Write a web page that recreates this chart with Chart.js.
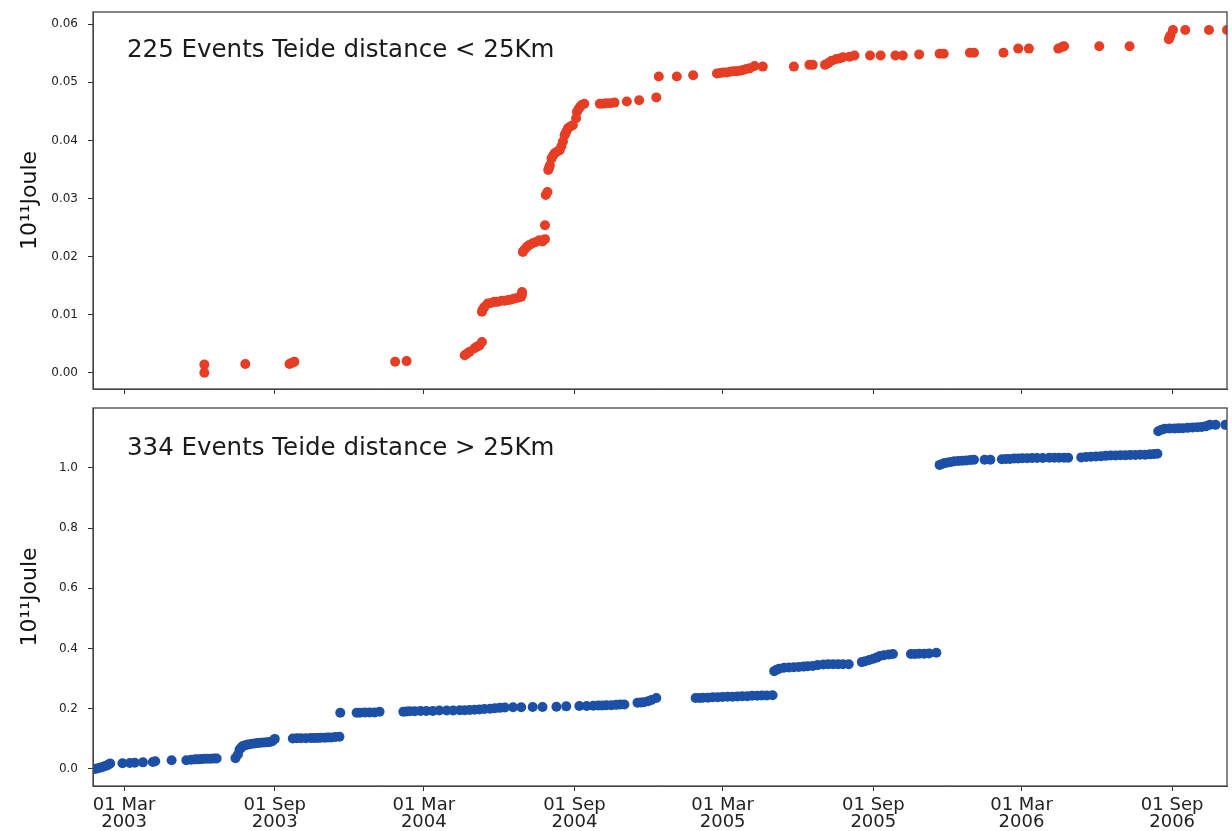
<!DOCTYPE html>
<html lang="en">
<head>
<meta charset="UTF-8">
<title>Teide cumulative seismic energy</title>
<style>
  body { margin: 0; background: #fff; }
  #wrap { position: relative; width: 1232px; height: 831px; }
  canvas { position: absolute; left: 0; }
  #topChart { top: 0; }
  #bottomChart { top: 400px; }
</style>
<script src="https://cdn.jsdelivr.net/npm/chart.js"></script>
</head>
<body>
<div id="wrap">
  <canvas id="topChart" width="1232" height="400"></canvas>
  <canvas id="bottomChart" width="1232" height="431"></canvas>
</div>
<script>
// events closer than 25 km to Teide
const nearDates = [
  '2003-06-07','2003-06-07','2003-07-27','2003-09-19','2003-09-22','2003-09-25','2004-01-26','2004-02-09',
  '2004-04-20','2004-04-23','2004-04-26','2004-05-02','2004-05-05','2004-05-08','2004-05-11','2004-05-11',
  '2004-05-12','2004-05-14','2004-05-18','2004-05-22','2004-05-26','2004-05-30','2004-06-04','2004-06-08',
  '2004-06-12','2004-06-16','2004-06-20','2004-06-24','2004-06-28','2004-06-29','2004-06-29','2004-06-30',
  '2004-07-02','2004-07-05','2004-07-08','2004-07-12','2004-07-16','2004-07-20','2004-07-24','2004-07-27',
  '2004-07-27','2004-07-28','2004-07-30','2004-07-31','2004-08-01','2004-08-02','2004-08-04','2004-08-06',
  '2004-08-08','2004-08-11','2004-08-14','2004-08-16','2004-08-18','2004-08-20','2004-08-22','2004-08-24',
  '2004-08-27','2004-08-30','2004-09-03','2004-09-04','2004-09-06','2004-09-08','2004-09-10','2004-09-13',
  '2004-10-02','2004-10-06','2004-10-10','2004-10-15','2004-10-20','2004-11-04','2004-11-19','2004-12-10',
  '2004-12-13','2005-01-04','2005-01-24','2005-02-22','2005-02-26','2005-03-02','2005-03-06','2005-03-10',
  '2005-03-14','2005-03-18','2005-03-22','2005-03-26','2005-03-30','2005-04-03','2005-04-09','2005-04-19',
  '2005-05-27','2005-06-15','2005-06-19','2005-07-04','2005-07-08','2005-07-12','2005-07-18','2005-07-22',
  '2005-07-26','2005-08-03','2005-08-09','2005-08-28','2005-09-10','2005-09-28','2005-10-07','2005-10-27',
  '2005-11-21','2005-11-26','2005-12-28','2006-01-02','2006-02-07','2006-02-25','2006-03-10','2006-04-15',
  '2006-04-20','2006-04-22','2006-06-04','2006-07-11','2006-08-28','2006-08-29','2006-08-30','2006-09-02',
  '2006-09-17','2006-10-16','2006-11-07'
];
const nearEnergy = [
  0.0014,0.0000,0.0015,0.0015,0.0017,0.0019,0.0019,0.0020,
  0.0030,0.0033,0.0036,0.0042,0.0045,0.0047,0.0053,0.0105,
  0.0109,0.0113,0.0119,0.0120,0.0122,0.0122,0.0124,0.0124,
  0.0125,0.0126,0.0128,0.0129,0.0131,0.0135,0.0139,0.0208,
  0.0212,0.0217,0.0220,0.0223,0.0225,0.0228,0.0226,0.0230,
  0.0254,0.0306,0.0311,0.0349,0.0353,0.0357,0.0369,0.0374,
  0.0378,0.0381,0.0383,0.0390,0.0398,0.0409,0.0415,0.0421,
  0.0424,0.0426,0.0438,0.0449,0.0454,0.0458,0.0461,0.0463,
  0.0463,0.0463,0.0464,0.0464,0.0465,0.0467,0.0469,0.0474,
  0.0510,0.0510,0.0512,0.0515,0.0516,0.0517,0.0517,0.0518,
  0.0519,0.0519,0.0520,0.0521,0.0523,0.0524,0.0528,0.0527,
  0.0527,0.0530,0.0530,0.0530,0.0533,0.0537,0.0540,0.0541,
  0.0543,0.0544,0.0546,0.0546,0.0546,0.0546,0.0546,0.0548,
  0.0549,0.0549,0.0551,0.0551,0.0551,0.0558,0.0558,0.0558,
  0.0561,0.0562,0.0562,0.0562,0.0574,0.0578,0.0581,0.0590,
  0.0590,0.0590,0.0590
];

// events farther than 25 km from Teide
const farDates = [
  '2003-01-24','2003-01-27','2003-01-30','2003-02-02','2003-02-05','2003-02-08','2003-02-10','2003-02-12',
  '2003-02-27','2003-03-08','2003-03-14','2003-03-24','2003-04-05','2003-04-08','2003-04-28','2003-05-16',
  '2003-05-22','2003-05-27','2003-05-31','2003-06-04','2003-06-07','2003-06-11','2003-06-15','2003-06-19',
  '2003-06-22','2003-07-15','2003-07-18','2003-07-20','2003-07-22','2003-07-24','2003-07-27','2003-07-30',
  '2003-08-03','2003-08-07','2003-08-11','2003-08-15','2003-08-19','2003-08-23','2003-08-26','2003-08-29',
  '2003-09-01','2003-09-23','2003-09-28','2003-10-03','2003-10-09','2003-10-15','2003-10-19','2003-10-23',
  '2003-10-27','2003-11-01','2003-11-05','2003-11-09','2003-11-14','2003-11-19','2003-11-20','2003-12-10',
  '2003-12-14','2003-12-20','2003-12-26','2004-01-01','2004-01-07','2004-02-05','2004-02-09','2004-02-13',
  '2004-02-19','2004-02-26','2004-03-04','2004-03-12','2004-03-20','2004-03-29','2004-04-06','2004-04-14',
  '2004-04-20','2004-04-26','2004-05-02','2004-05-08','2004-05-14','2004-05-21','2004-05-27','2004-06-02',
  '2004-06-08','2004-06-18','2004-06-28','2004-07-12','2004-07-24','2004-08-10','2004-08-22','2004-09-07',
  '2004-09-16','2004-09-24','2004-09-30','2004-10-05','2004-10-10','2004-10-16','2004-10-22','2004-10-27',
  '2004-11-01','2004-11-17','2004-11-21','2004-11-25','2004-11-30','2004-12-04','2004-12-10','2005-01-27',
  '2005-02-01','2005-02-05','2005-02-11','2005-02-17','2005-02-23','2005-03-01','2005-03-07','2005-03-13',
  '2005-03-19','2005-03-25','2005-03-31','2005-04-06','2005-04-12','2005-04-18','2005-04-24','2005-05-01',
  '2005-05-03','2005-05-06','2005-05-09','2005-05-15','2005-05-21','2005-05-27','2005-06-02','2005-06-08',
  '2005-06-13','2005-06-19','2005-06-25','2005-07-02','2005-07-08','2005-07-14','2005-07-20','2005-07-26',
  '2005-08-02','2005-08-18','2005-08-22','2005-08-27','2005-09-01','2005-09-05','2005-09-09','2005-09-14',
  '2005-09-20','2005-09-25','2005-10-17','2005-10-22','2005-10-27','2005-11-02','2005-11-08','2005-11-17',
  '2005-11-21','2005-11-24','2005-11-27','2005-12-01','2005-12-05','2005-12-09','2005-12-14','2005-12-19',
  '2005-12-24','2005-12-29','2006-01-02','2006-01-15','2006-01-22','2006-02-05','2006-02-10','2006-02-15',
  '2006-02-20','2006-02-25','2006-03-02','2006-03-08','2006-03-14','2006-03-20','2006-03-27','2006-04-04',
  '2006-04-10','2006-04-16','2006-04-22','2006-04-27','2006-05-13','2006-05-19','2006-05-25','2006-05-31',
  '2006-06-06','2006-06-12','2006-06-18','2006-06-24','2006-06-30','2006-07-06','2006-07-12','2006-07-18',
  '2006-07-24','2006-07-30','2006-08-05','2006-08-10','2006-08-14','2006-08-15','2006-08-19','2006-08-23',
  '2006-08-29','2006-09-04','2006-09-09','2006-09-14','2006-09-20','2006-09-26','2006-10-02','2006-10-07',
  '2006-10-12','2006-10-17','2006-10-24','2006-11-05'
];
const farEnergy = [
  0.000,0.002,0.004,0.006,0.009,0.012,0.015,0.018,
  0.019,0.020,0.021,0.022,0.023,0.026,0.029,0.029,
  0.031,0.032,0.032,0.033,0.034,0.034,0.034,0.035,
  0.035,0.036,0.048,0.065,0.071,0.076,0.079,0.081,
  0.083,0.085,0.086,0.087,0.088,0.089,0.090,0.092,
  0.100,0.101,0.102,0.102,0.102,0.103,0.103,0.103,
  0.104,0.104,0.105,0.105,0.106,0.107,0.187,0.187,
  0.187,0.188,0.188,0.188,0.190,0.190,0.191,0.192,
  0.192,0.193,0.193,0.193,0.194,0.194,0.194,0.195,
  0.195,0.196,0.197,0.198,0.199,0.200,0.202,0.203,
  0.204,0.205,0.205,0.206,0.206,0.207,0.208,0.209,
  0.209,0.210,0.211,0.211,0.212,0.212,0.213,0.214,
  0.214,0.220,0.221,0.222,0.225,0.229,0.236,0.236,
  0.236,0.237,0.237,0.238,0.238,0.239,0.240,0.240,
  0.241,0.242,0.242,0.243,0.243,0.244,0.244,0.245,
  0.325,0.330,0.333,0.336,0.337,0.338,0.339,0.340,
  0.341,0.342,0.345,0.347,0.348,0.348,0.348,0.348,
  0.348,0.355,0.358,0.362,0.366,0.370,0.375,0.378,
  0.380,0.382,0.382,0.382,0.383,0.383,0.384,0.386,
  1.010,1.013,1.016,1.018,1.020,1.022,1.023,1.024,
  1.025,1.026,1.027,1.027,1.027,1.029,1.030,1.030,
  1.031,1.031,1.032,1.032,1.033,1.033,1.033,1.034,
  1.034,1.034,1.034,1.034,1.035,1.036,1.037,1.038,
  1.039,1.040,1.041,1.041,1.042,1.042,1.043,1.043,
  1.044,1.044,1.045,1.046,1.047,1.122,1.127,1.130,
  1.131,1.131,1.132,1.132,1.133,1.134,1.135,1.136,
  1.138,1.143,1.143,1.143
];

const xTickDates = ['2003-03-01','2003-09-01','2004-03-01','2004-09-01','2005-03-01','2005-09-01','2006-03-01','2006-09-01'];
const xTickLabels = [['01 Mar','2003'],['01 Sep','2003'],['01 Mar','2004'],['01 Sep','2004'],
                     ['01 Mar','2005'],['01 Sep','2005'],['01 Mar','2006'],['01 Sep','2006']];
const nearTicks = [0, 0.01, 0.02, 0.03, 0.04, 0.05, 0.06];
const farTicks = [0, 0.2, 0.4, 0.6, 0.8, 1.0];

const xMin = Date.parse('2003-01-22');
const xMax = Date.parse('2006-11-07');

const FONT = '"DejaVu Sans", sans-serif';

// box around the plot area plus the panel caption
const framePlugin = {
  id: 'frame',
  afterDraw(chart, args, opts) {
    const { ctx, chartArea: a } = chart;
    ctx.save();
    ctx.strokeStyle = '#444';
    ctx.lineWidth = 1.3;
    ctx.strokeRect(a.left, a.top, a.right - a.left, a.bottom - a.top);
    ctx.fillStyle = '#1a1a1a';
    ctx.font = '24.5px ' + FONT;
    ctx.textBaseline = 'alphabetic';
    ctx.fillText(opts.text, a.left + 34, a.top + opts.dy);
    ctx.restore();
  }
};

function makePoints(dates, values) {
  return dates.map((d, i) => ({ x: Date.parse(d), y: values[i] }));
}

function panel(canvasId, opts) {
  new Chart(document.getElementById(canvasId), {
    type: 'scatter',
    data: {
      datasets: [{
        data: makePoints(opts.dates, opts.values),
        backgroundColor: opts.color,
        borderWidth: 0,
        pointRadius: 5,
        pointHoverRadius: 5
      }]
    },
    options: {
      responsive: false,
      animation: false,
      layout: { padding: { top: opts.padTop, right: 5, left: 0, bottom: 0 } },
      plugins: {
        legend: { display: false },
        tooltip: { enabled: false },
        frame: { text: opts.caption, dy: opts.captionDy }
      },
      scales: {
        x: {
          type: 'linear',
          min: xMin,
          max: xMax,
          afterBuildTicks: s => { s.ticks = xTickDates.map(d => ({ value: Date.parse(d) })); },
          afterFit: s => { s.height = opts.xHeight; s.paddingLeft = 0; s.paddingRight = 0; },
          ticks: {
            display: opts.showXLabels,
            autoSkip: false,
            maxRotation: 0,
            padding: 6,
            color: '#222',
            font: { family: FONT, size: 18, lineHeight: 0.95 },
            callback: (v, i) => xTickLabels[i]
          },
          grid: { drawOnChartArea: false, tickLength: 5, color: '#333' },
          border: { color: '#444' }
        },
        y: {
          min: opts.yMin,
          max: opts.yMax,
          afterBuildTicks: s => { s.ticks = opts.yTicks.map(v => ({ value: v })); },
          afterFit: s => { s.width = 93; s.paddingTop = 0; s.paddingBottom = 0; },
          ticks: {
            padding: 10,
            color: '#222',
            font: { family: FONT, size: 12 },
            callback: v => v.toFixed(opts.decimals)
          },
          grid: { drawOnChartArea: false, tickLength: 5, color: '#333' },
          border: { color: '#444' },
          title: {
            display: true,
            text: '10¹¹Joule',
            color: '#111',
            font: { family: FONT, size: 22 },
            padding: { top: 17, bottom: 0 }
          }
        }
      }
    },
    plugins: [framePlugin]
  });
}

panel('topChart', {
  dates: nearDates, values: nearEnergy, color: '#e63d25',
  caption: '225 Events Teide distance < 25Km', captionDy: 45,
  yMin: -0.0028, yMax: 0.0621, yTicks: nearTicks, decimals: 2,
  padTop: 12, xHeight: 11, showXLabels: false
});

panel('bottomChart', {
  dates: farDates, values: farEnergy, color: '#1c4fa6',
  caption: '334 Events Teide distance > 25Km', captionDy: 47,
  yMin: -0.0565, yMax: 1.199, yTicks: farTicks, decimals: 1,
  padTop: 8, xHeight: 45, showXLabels: true
});
</script>
</body>
</html>
